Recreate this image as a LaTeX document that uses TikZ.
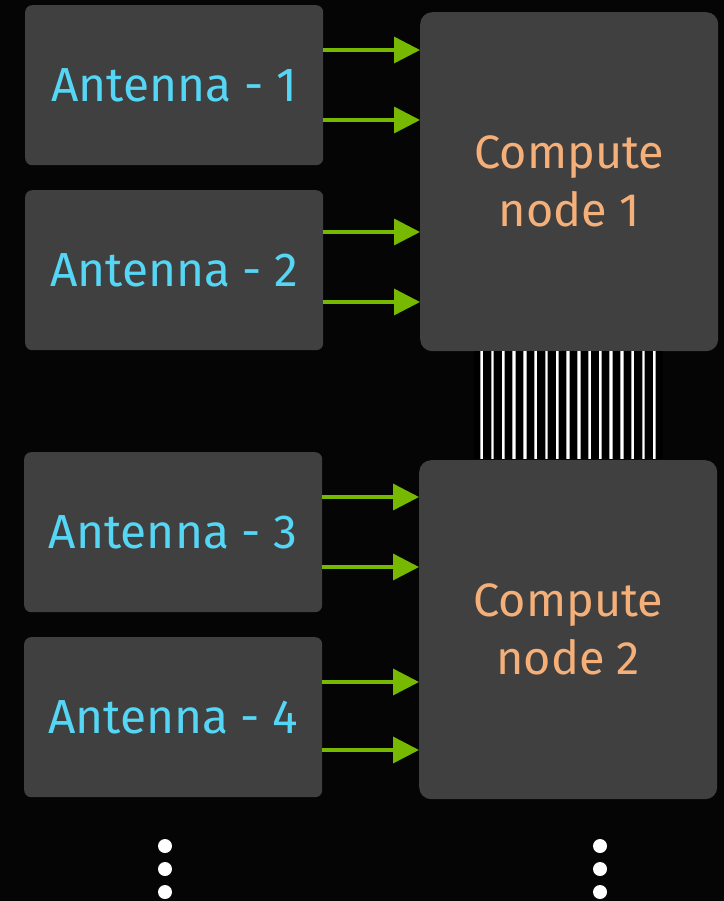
\documentclass[tikz,border=0pt]{standalone}
\usepackage{fontspec}
\setmainfont{Fira Sans}
\usetikzlibrary{arrows.meta}
\definecolor{bg}{HTML}{050505}
\definecolor{boxgray}{HTML}{404040}
\definecolor{antcyan}{HTML}{55D6F5}
\definecolor{comporange}{HTML}{F5B07A}
\definecolor{nvgreen}{HTML}{76B900}
\tikzset{
  antbox/.style={fill=boxgray, rounded corners=7bp, minimum width=298bp, minimum height=160bp, anchor=north west, inner sep=0pt, text=antcyan, font=\fontsize{48}{54}\selectfont},
  compbox/.style={fill=boxgray, rounded corners=12bp, minimum width=298bp, minimum height=339bp, anchor=north west, inner sep=0pt, text=comporange, font=\fontsize{47}{58}\selectfont, align=center},
  feed/.style={draw=nvgreen, line width=3.5bp, -{Triangle[length=26bp,width=26bp]}},
  wireedge/.style={draw=gray!70, line width=3.4bp},
  wire/.style={draw=white, line width=1.8bp},
  dotmark/.style={circle, fill=white, minimum size=14bp, inner sep=0pt}
}
\begin{document}
\begin{tikzpicture}[x=1bp,y=-1bp]
\fill[bg] (0,0) rectangle (724,901);
\useasboundingbox (0,0) rectangle (724,901);
% boxes
\node[antbox] (a1) at (25,5) {\raisebox{-3bp}{Antenna - 1}};
\node[antbox] (a2) at (25,190) {\raisebox{-3bp}{Antenna - 2}};
\node[antbox] (a3) at (24,452) {\raisebox{-3bp}{Antenna - 3}};
\node[antbox] (a4) at (24,637) {\raisebox{-3bp}{Antenna - 4}};
\node[compbox] (c1) at (420,12) {Compute\\node 1};
\node[compbox] (c2) at (419,460) {Compute\\node 2};
% bus between compute nodes
\fill[black] (474,351) rectangle (663,459);
\foreach \i in {0,...,16}{
  \coordinate (t\i) at ({481.7+10.79*\i},351);
  \coordinate (b\i) at ({481.7+10.79*\i},459);
  \draw[wireedge] (t\i) -- (b\i);
  \draw[wire] (t\i) -- (b\i);
}
% arrow end points
\coordinate (s1) at (323,50);  \coordinate (e1) at (420,50);
\coordinate (s2) at (323,120); \coordinate (e2) at (420,120);
\coordinate (s3) at (323,232); \coordinate (e3) at (420,232);
\coordinate (s4) at (323,302); \coordinate (e4) at (420,302);
\coordinate (s5) at (322,497); \coordinate (e5) at (419,497);
\coordinate (s6) at (322,567); \coordinate (e6) at (419,567);
\coordinate (s7) at (322,682); \coordinate (e7) at (419,682);
\coordinate (s8) at (322,750); \coordinate (e8) at (419,750);
\foreach \k in {1,...,8}{\draw[feed] (s\k) -- (e\k);}
% continuation dots
\node[dotmark] (l1) at (165,846) {};
\node[dotmark] (l2) at (165,869) {};
\node[dotmark] (l3) at (165,892) {};
\node[dotmark] (r1) at (600,846) {};
\node[dotmark] (r2) at (600,869) {};
\node[dotmark] (r3) at (600,892) {};
\end{tikzpicture}
\end{document}
